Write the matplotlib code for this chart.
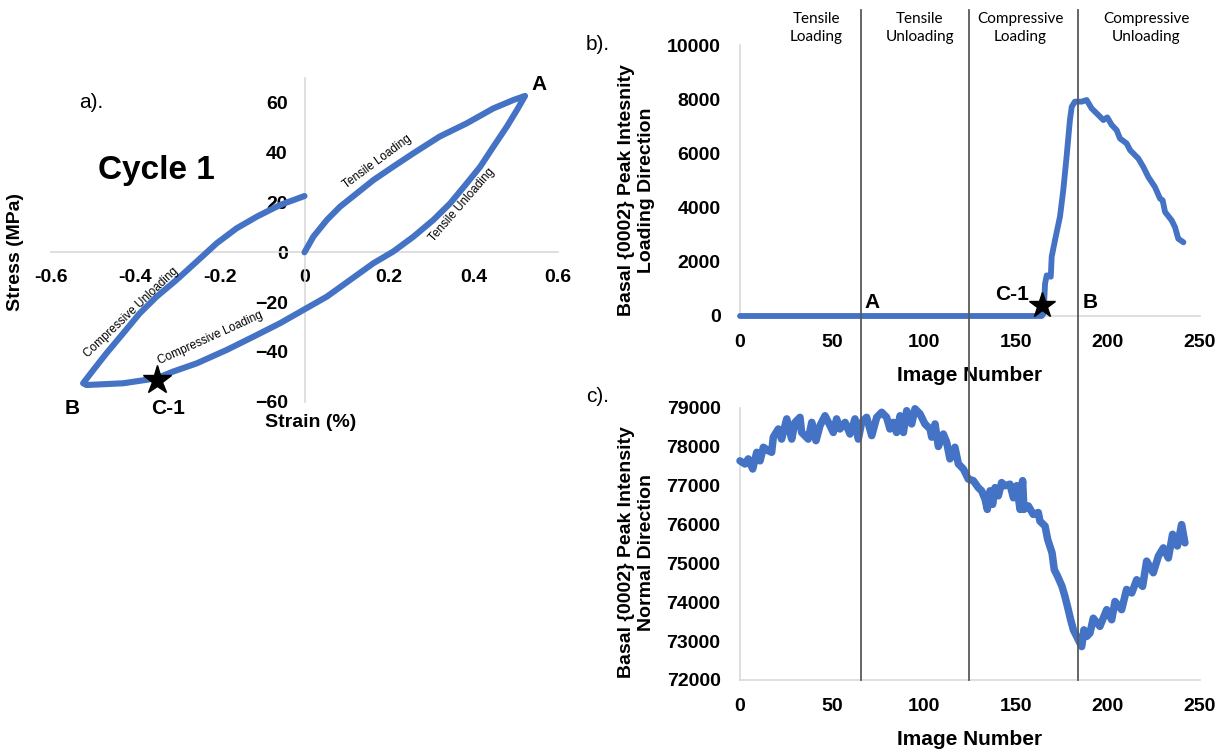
import matplotlib
matplotlib.use("Agg")
import matplotlib.pyplot as plt
from matplotlib.lines import Line2D
from matplotlib.transforms import blended_transform_factory

plt.rcParams['font.family'] = ['Liberation Sans', 'DejaVu Sans']

BLUE = '#4472C4'
AXIS_GRAY = '#d9d9d9'
PHASE_GRAY = '#595959'

# ---- a) stress-strain loop of cycle 1 ----
strain = [0, 0.021, 0.053, 0.084, 0.124, 0.163, 0.21, 0.258, 0.32, 0.384, 0.447, 0.495, 0.522,
          0.503, 0.479, 0.447, 0.416, 0.384, 0.345, 0.305, 0.258, 0.21, 0.163, 0.108, 0.053, 0.0,
          -0.058, -0.121, -0.184, -0.255, -0.311, -0.35, -0.429, -0.516, -0.524,
          -0.5, -0.469, -0.429, -0.39, -0.35, -0.303, -0.255, -0.208, -0.161, -0.113, -0.058, 0.0]
stress = [0, 6.3, 13, 18.3, 23.7, 29, 34.4, 39.8, 46.5, 51.8, 57.8, 61.2, 62.8,
          57.2, 50.5, 42.4, 34.4, 27.7, 19.7, 13, 6.3, 0.3, -4.4, -11.1, -17.8, -22.9,
          -28.5, -33.9, -39.2, -44.6, -47.9, -50.6, -52.6, -53.3, -52.6,
          -47.3, -40.6, -32.5, -24.5, -17.8, -11.1, -3.7, 3.6, 9.6, 14.3, 19.0, 22.6]
strain_ticks = [-0.6, -0.4, -0.2, 0, 0.2, 0.4, 0.6]
strain_tick_labels = ['-0.6', '-0.4', '-0.2', '0', '0.2', '0.4', '0.6']
stress_ticks = [-60, -40, -20, 0, 20, 40, 60]
c1_point_a = (-0.349, -51.3)

# ---- b) basal peak intensity, loading direction ----
img_b = [0, 164, 165, 165.8, 166.7, 168.9, 169.4, 171.2, 173.9, 175.7, 177.5, 179.3, 180.3,
         182, 185.7, 188.4, 191.1, 194.7, 197.5, 199.6, 202, 204.7, 206.5, 210.1, 212, 216.5,
         219.2, 221.9, 225.5, 228.3, 229.7, 231, 234.6, 236.4, 238.2, 241]
int_b = [0, 0, 100, 1200, 1500, 1450, 2190, 2800, 3665, 4650, 5880, 7230, 7720,
         7910, 7910, 7970, 7660, 7420, 7230, 7330, 7050, 6860, 6550, 6370, 6120, 5810,
         5500, 5130, 4760, 4330, 4270, 3840, 3530, 3280, 2850, 2720]
c1_point_b = (164, 400)

# ---- c) basal peak intensity, normal direction ----
img_c = [0, 2.7, 4.5, 6.9, 9.1, 10.9, 12.7, 15.4, 17.2, 18.1, 20.8, 22.6, 25.4, 28.1, 29.9,
         32.6, 33.5, 37.1, 39, 41.3, 43.5, 46.2, 48.9, 50.7, 52.5, 54.3, 57.1, 59.8, 62.5,
         64.3, 66.1, 68.8, 71.6, 74.3, 77, 79.7, 81.5, 83.3, 85.1, 87, 88.8, 90.6, 93.3,
         95.1, 97.8, 100.5, 103.3, 104.2, 106, 107.8, 110.5, 112.3, 114.1, 116.8, 118.7,
         121.4, 124.1, 126.8, 129.5, 131.3, 133.2, 134.4, 135.9, 137.3, 138.6, 140.4, 142.2,
         144, 146.7, 148.6, 150.4, 152.2, 153.6, 154.3, 156.7, 159.4, 162.1, 163, 165.8,
         167.2, 169.6, 170.8, 172.6, 175, 176.6, 178.4, 179.7, 181.2, 183, 185.7, 186.9,
         188.4, 190.2, 192, 195.6, 199.3, 202, 203.8, 207.4, 210.1, 212.9, 215.6, 218.8,
         221, 224.6, 227.4, 230.1, 232.8, 235.1, 237.7, 240, 241.8]
int_c = [77640, 77560, 77690, 77430, 77860, 77640, 77990, 77900, 77860, 78250, 78460, 78200,
         78720, 78200, 78630, 78760, 78370, 78200, 78630, 78160, 78550, 78800, 78550, 78370,
         78720, 78460, 78630, 78330, 78720, 78200, 78630, 78760, 78290, 78760, 78890, 78760,
         78460, 78630, 78370, 78800, 78370, 78930, 78590, 78980, 78850, 78590, 78460, 78250,
         78590, 78010, 78330, 78120, 77690, 77990, 77560, 77430, 77170, 77130, 76950, 76870,
         76650, 76390, 76870, 76520, 76950, 76740, 77080, 77000, 77040, 76690, 77000, 76390,
         77130, 76390, 76480, 76260, 76310, 76090, 75960, 75620, 75270, 74840, 74670, 74410,
         74150, 73810, 73550, 73290, 73120, 72860, 73290, 73120, 73210, 73590, 73380, 73810,
         73550, 74020, 73810, 74330, 74240, 74580, 74410, 75060, 74760, 75190, 75400, 75140,
         75750, 75450, 76000, 75530]

# phase boundaries (image number) and their headings
phase_bounds = [66, 124.5, 183.5]
phase_names = ['Tensile\nLoading', 'Tensile\nUnloading', 'Compressive\nLoading', 'Compressive\nUnloading']
phase_label_x = [41.6, 97.8, 152.2, 220.7]

fig = plt.figure(figsize=(12.31, 7.55), dpi=100)
W, H = 1231, 755

TICK_FS = 14

# ---------- panel a ----------
ax_a = fig.add_axes([51 / W, 1 - 401.7 / H, 507 / W, 323.7 / H])
ax_a.set_xlim(-0.6, 0.6)
ax_a.set_ylim(-60, 70)
ax_a.spines['left'].set_position(('data', 0))
ax_a.spines['bottom'].set_position(('data', 0))
for s in ('top', 'right'):
    ax_a.spines[s].set_visible(False)
for s in ('left', 'bottom'):
    ax_a.spines[s].set_color(AXIS_GRAY)
    ax_a.spines[s].set_linewidth(1.2)
ax_a.set_xticks(strain_ticks)
ax_a.set_xticklabels(strain_tick_labels)
ax_a.set_yticks(stress_ticks)
ax_a.tick_params(axis='both', length=0, labelsize=TICK_FS)
ax_a.tick_params(axis='x', pad=12)
ax_a.tick_params(axis='y', pad=12)
for lab in ax_a.get_xticklabels() + ax_a.get_yticklabels():
    lab.set_fontweight('bold')
ax_a.plot(strain, stress, color=BLUE, lw=4.4, solid_capstyle='round',
          solid_joinstyle='round', clip_on=False, zorder=3)
ax_a.plot(*c1_point_a, marker='*', color='black', markersize=21, zorder=4, clip_on=False)

ax_a.set_ylabel('Stress (MPa)', fontsize=14, fontweight='bold', va='center')
ax_a.yaxis.set_label_coords(-0.071, 0.4625)
ax_a.set_xlabel('Strain (%)', fontsize=14, fontweight='bold', va='center')
ax_a.xaxis.set_label_coords(0.513, -0.063)

ax_a.text(0.556, 67.2, 'A', fontsize=15, fontweight='bold', ha='center', va='center')
ax_a.text(-0.551, -62.6, 'B', fontsize=15, fontweight='bold', ha='center', va='center', clip_on=False)
ax_a.text(-0.323, -62.6, 'C-1', fontsize=15, fontweight='bold', ha='center', va='center', clip_on=False)

ax_a.text(0.1725, 36.4, 'Tensile Loading', fontsize=8.5, rotation=36.5, ha='center', va='center')
ax_a.text(0.372, 19.0, 'Tensile Unloading', fontsize=8.5, rotation=49, ha='center', va='center')
ax_a.text(-0.41, -24.2, 'Compressive Unloading', fontsize=8.5, rotation=43.5, ha='center', va='center')
ax_a.text(-0.224, -34.5, 'Compressive Loading', fontsize=8.5, rotation=24.4, ha='center', va='center')

fig.text(91.7 / W, 1 - 103 / H, 'a).', fontsize=15, ha='center', va='center')
fig.text(156.7 / W, 1 - 170 / H, 'Cycle 1', fontsize=24, fontweight='bold', ha='center', va='center')


def style_series_axes(ax):
    for s in ('top', 'right'):
        ax.spines[s].set_visible(False)
    for s in ('left', 'bottom'):
        ax.spines[s].set_color(AXIS_GRAY)
        ax.spines[s].set_linewidth(1.2)
    ax.tick_params(axis='both', length=0, labelsize=TICK_FS)
    ax.tick_params(axis='y', pad=14)
    ax.tick_params(axis='x', pad=13)
    for lab in ax.get_xticklabels() + ax.get_yticklabels():
        lab.set_fontweight('bold')
    ax.set_xlabel('Image Number', fontsize=15, fontweight='bold', va='center')
    ax.xaxis.set_label_coords(0.5, -0.219)


# ---------- panel b ----------
ax_b = fig.add_axes([740 / W, 1 - 316 / H, 460 / W, 271 / H])
ax_b.set_xlim(0, 250)
ax_b.set_ylim(0, 10000)
ax_b.set_xticks([0, 50, 100, 150, 200, 250])
ax_b.set_yticks([0, 2000, 4000, 6000, 8000, 10000])
style_series_axes(ax_b)
ax_b.plot(img_b, int_b, color=BLUE, lw=4.2, solid_capstyle='round',
          solid_joinstyle='round', clip_on=False, zorder=3)
ax_b.plot(*c1_point_b, marker='*', color='black', markersize=19, zorder=4, clip_on=False)
ax_b.set_ylabel('Basal {0002} Peak Intesnity\nLoading Direction', fontsize=14,
                fontweight='bold', va='center', linespacing=1.25)
ax_b.yaxis.set_label_coords(-0.225, 0.465)
ax_b.text(71.7, 480, 'A', fontsize=15, fontweight='bold', ha='center', va='center')
ax_b.text(190.2, 480, 'B', fontsize=15, fontweight='bold', ha='center', va='center')
ax_b.text(147.8, 775, 'C-1', fontsize=15, fontweight='bold', ha='center', va='center')
fig.text(598 / W, 1 - 45 / H, 'b).', fontsize=15, ha='center', va='center')

# ---------- panel c ----------
ax_c = fig.add_axes([740 / W, 1 - 680 / H, 460 / W, 272 / H])
ax_c.set_xlim(0, 250)
ax_c.set_ylim(72000, 79000)
ax_c.set_xticks([0, 50, 100, 150, 200, 250])
ax_c.set_yticks(list(range(72000, 79001, 1000)))
style_series_axes(ax_c)
ax_c.plot(img_c, int_c, color=BLUE, lw=5.4, solid_capstyle='round',
          solid_joinstyle='round', clip_on=False, zorder=3)
ax_c.set_ylabel('Basal {0002} Peak Intensity\nNormal Direction', fontsize=14,
                fontweight='bold', va='center', linespacing=1.25)
ax_c.yaxis.set_label_coords(-0.225, 0.47)
fig.text(598 / W, 1 - 397 / H, 'c).', fontsize=15, ha='center', va='center')

# ---------- phase boundaries spanning panels b and c ----------
trans = blended_transform_factory(ax_b.transData, fig.transFigure)
y_top = 1 - 10 / H
y_bot = 1 - 680 / H
for xb in phase_bounds:
    fig.add_artist(Line2D([xb, xb], [y_bot, y_top], transform=trans,
                          color=PHASE_GRAY, lw=1.3, zorder=1))
for xl, name in zip(phase_label_x, phase_names):
    fig.text(xl, 1 - 28 / H, name, transform=trans, fontsize=11, family=['Lato', 'DejaVu Sans'],
             ha='center', va='center', linespacing=1.45)

fig.savefig('out.png', dpi=100)
